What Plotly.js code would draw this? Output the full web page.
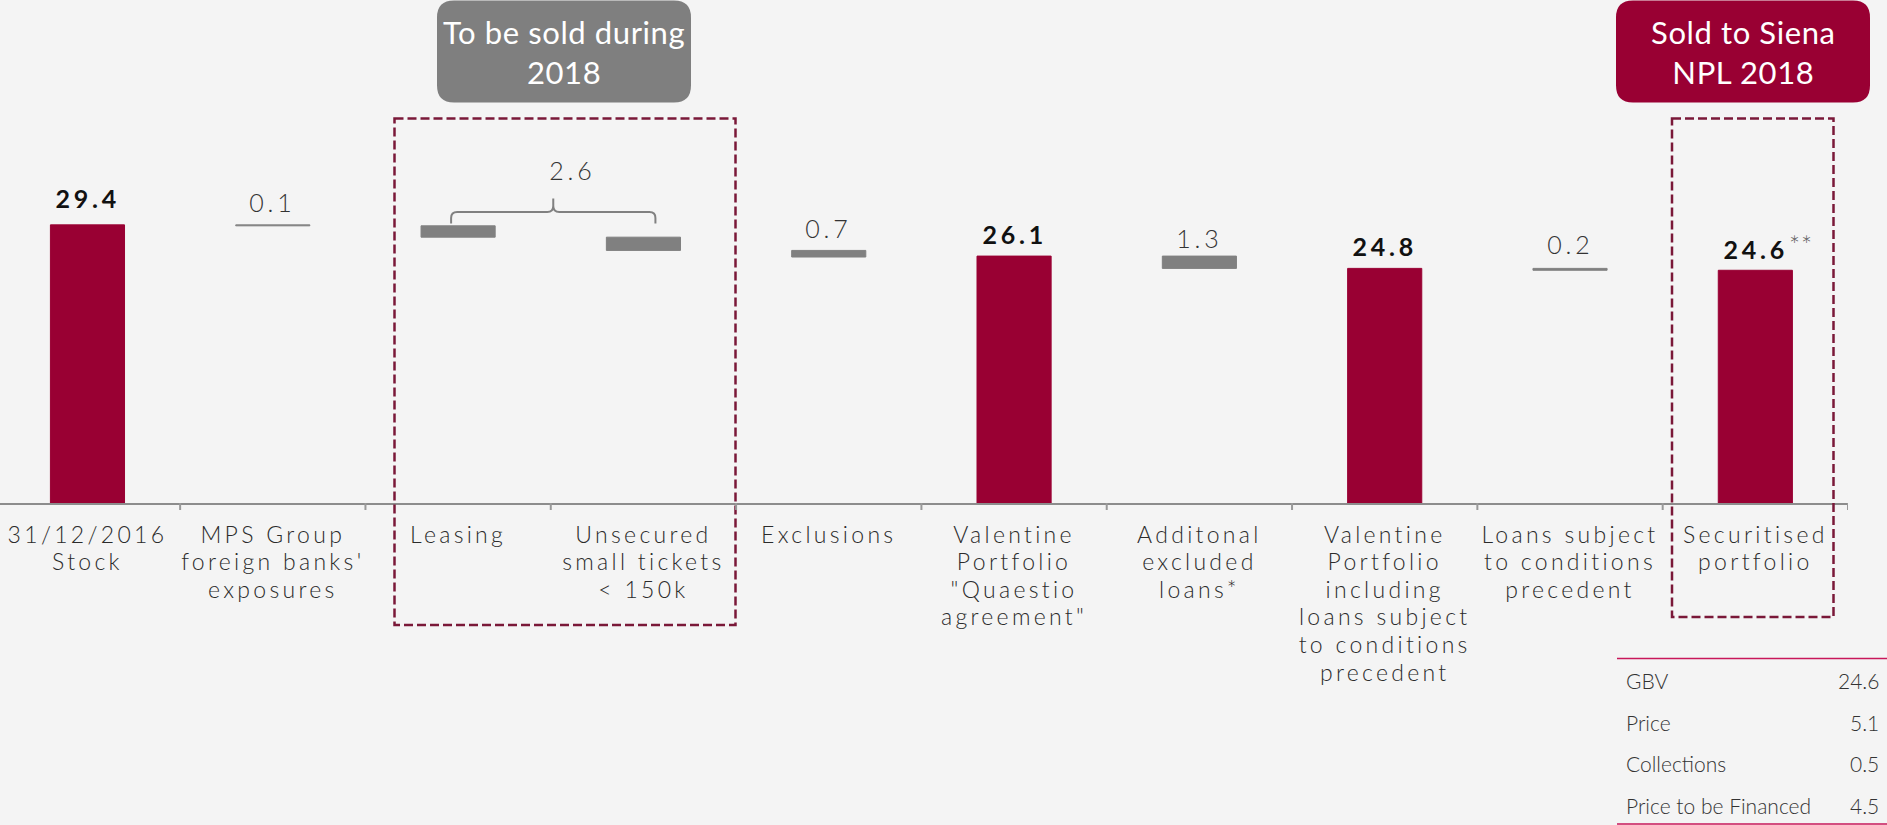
<!DOCTYPE html>
<html><head><meta charset="utf-8">
<script src="https://cdn.plot.ly/plotly-3.0.1.min.js"></script>
<style>
html,body{margin:0;padding:0;background:#f4f4f4;}
#chart{width:1887px;height:825px;}
.xtick text{letter-spacing:3.3px;}
</style>
</head><body><div id="chart"></div>
<script>
// ---------------- data ----------------
const categories = [
  '31/12/2016<br>Stock',
  "MPS Group<br>foreign banks'<br>exposures",
  'Leasing',
  'Unsecured<br>small tickets<br>&lt; 150k',
  'Exclusions',
  'Valentine<br>Portfolio<br>"Quaestio<br>agreement"',
  'Additonal<br>excluded<br>loans*',
  'Valentine<br>Portfolio<br>including<br>loans subject<br>to conditions<br>precedent',
  'Loans subject<br>to conditions<br>precedent',
  'Securitised<br>portfolio'
];
const measures = ['total','delta','delta','delta','delta','total','delta','total','delta','total'];
const values = [29.4, 0.1, 1.2, 1.4, 0.7, 26.1, 1.3, 24.8, 0.2, 24.6];
const valueLabels = ['29.4','0.1','','','0.7','26.1','1.3','24.8','0.2','24.6'];
const groupMembers = [2, 3];            // Leasing + Unsecured small tickets
const groupLabel = '2.6';
const boxLabels = ['To be sold during<br>2018', 'Sold to Siena<br>NPL 2018'];
const tableLabels = ['GBV', 'Price', 'Collections', 'Price to be Financed'];
const tableValues = ['24.6', '5.1', '0.5', '4.5'];

// ---------------- layout constants ----------------
const W = 1887, H = 825, ML = 0, MR = 39, MT = 0, MB = 322;
const plotW = W - ML - MR, plotH = H - MT - MB;
const xRange = [-0.472, 9.5];
const yRange = [0, 53.17];
const RED = '#990033', GREY = '#808080', FRAME = '#7a1838';
// pixel gap between bar top and label baseline (styling, per category)
const labelGap = [16.6, 12.2, 0, 0, 12.1, 11.1, 7.8, 11.7, 13.4, 11];
const LABEL_DESC = 6.3;   // descent + pad of 25px annotation text

const pxX = i => ML + (i - xRange[0]) / (xRange[1] - xRange[0]) * plotW;
const paperX = px => (px - ML) / plotW;
const paperY = py => (MT + plotH - py) / plotH;
const unitPx = plotH / (yRange[1] - yRange[0]);

// ---------------- bars ----------------
let level = 0;
const bases = [], heights = [], colors = [];
values.forEach((v, i) => {
  if (measures[i] === 'total') { bases.push(0); heights.push(v); level = v; colors.push(RED); }
  else { bases.push(level - v); heights.push(v); level = level - v; colors.push(GREY); }
});
const xIdx = categories.map((c, i) => i);

const trace = {
  type: 'bar', x: xIdx, y: heights, base: bases, width: 0.4,
  marker: { color: colors, line: { color: colors, width: 1 } },
  hoverinfo: 'skip', showlegend: false
};

// ---------------- annotations ----------------
const annotations = [];
const spacing = {};   // annotation index -> letter spacing (px)
valueLabels.forEach((lab, i) => {
  if (!lab) return;
  const tot = measures[i] === 'total';
  spacing[annotations.length] = 3.8;
  annotations.push({
    x: i, y: bases[i] + heights[i], xref: 'x', yref: 'y',
    text: lab, showarrow: false, yanchor: 'bottom', yshift: labelGap[i] - LABEL_DESC,
    font: { family: 'Lato', size: 25, weight: tot ? 700 : 300, color: tot ? '#111111' : '#333333' }
  });
});
// ** marker on last bar
const last = values.length - 1;
spacing[annotations.length] = 1;
annotations.push({
  x: last, y: bases[last] + heights[last], xref: 'x', yref: 'y',
  text: '**', showarrow: false, xanchor: 'left', yanchor: 'middle', xshift: 33, yshift: 25,
  font: { family: 'Lato', size: 26, weight: 300, color: '#5a5a5a' }
});

// bracket over grouped bars
const gTop = bases[groupMembers[0]] + heights[groupMembers[0]];
const yLeg = gTop + 0.25, yH = gTop + 1.45, yNub = gTop + 2.9;
const xl = paperX(pxX(groupMembers[0]) - 7), xr = paperX(pxX(groupMembers[1]) + 12);
const xc = (xl + xr) / 2;
const rx = 6 / plotW, ry = 6 / unitPx;
const bracketPath =
  `M${xl},${yLeg} L${xl},${yH - ry} Q${xl},${yH} ${xl + rx},${yH} L${xc - rx},${yH} Q${xc},${yH} ${xc},${yH + ry} L${xc},${yNub} ` +
  `M${xc},${yH + ry} Q${xc},${yH} ${xc + rx},${yH} L${xr - rx},${yH} Q${xr},${yH} ${xr},${yH - ry} L${xr},${yLeg}`;

spacing[annotations.length] = 3.8;
annotations.push({
  x: xc, y: yNub, xref: 'paper', yref: 'y', text: groupLabel, showarrow: false,
  yanchor: 'bottom', yshift: 11,
  font: { family: 'Lato', size: 25, weight: 300, color: '#333333' }
});

// header boxes
function roundRect(x0, y0, x1, y1, r) {
  const X = paperX, Y = paperY;
  return `M${X(x0 + r)},${Y(y0)} L${X(x1 - r)},${Y(y0)} Q${X(x1)},${Y(y0)} ${X(x1)},${Y(y0 + r)} ` +
         `L${X(x1)},${Y(y1 - r)} Q${X(x1)},${Y(y1)} ${X(x1 - r)},${Y(y1)} L${X(x0 + r)},${Y(y1)} ` +
         `Q${X(x0)},${Y(y1)} ${X(x0)},${Y(y1 - r)} L${X(x0)},${Y(y0 + r)} Q${X(x0)},${Y(y0)} ${X(x0 + r)},${Y(y0)} Z`;
}
const boxes = [
  { x0: 437, x1: 691, y0: 0.5, y1: 102.5, fill: '#7f7f7f' },
  { x0: 1616, x1: 1870, y0: 0.5, y1: 102.5, fill: RED }
];
const shapes = [];
boxes.forEach((b, k) => {
  shapes.push({ type: 'path', xref: 'paper', yref: 'paper', path: roundRect(b.x0, b.y0, b.x1, b.y1, 17),
                fillcolor: b.fill, line: { width: 0 }, layer: 'above' });
  spacing[annotations.length] = 0.6;
  annotations.push({
    x: paperX((b.x0 + b.x1) / 2), y: paperY((b.y0 + b.y1) / 2 + 1), xref: 'paper', yref: 'paper',
    text: boxLabels[k], showarrow: false, xanchor: 'center', yanchor: 'middle',
    font: { family: 'Lato', size: 31, color: '#ffffff' }
  });
});

// dashed frames
[[394.5, 118.5, 735.5, 625], [1672, 118.5, 1833.5, 617]].forEach(f => {
  shapes.push({ type: 'rect', xref: 'paper', yref: 'paper',
    x0: paperX(f[0]), x1: paperX(f[2]), y0: paperY(f[1]), y1: paperY(f[3]),
    line: { color: FRAME, width: 2.5, dash: '9px,4px' }, fillcolor: 'rgba(0,0,0,0)', layer: 'above' });
});

// bracket
shapes.push({ type: 'path', xref: 'paper', yref: 'y', path: bracketPath,
  line: { color: '#808080', width: 2 }, layer: 'above' });

// summary table
const tblTop = 658.5, rowH = 41.7, firstRow = 680.5;
shapes.push({ type: 'line', xref: 'paper', yref: 'paper', x0: paperX(1617), x1: paperX(1887),
  y0: paperY(tblTop), y1: paperY(tblTop), line: { color: '#c8175a', width: 1.5 } });
shapes.push({ type: 'line', xref: 'paper', yref: 'paper', x0: paperX(1617), x1: paperX(1887),
  y0: paperY(824), y1: paperY(824), line: { color: '#c8175a', width: 1.5 } });
tableLabels.forEach((lab, r) => {
  const py = firstRow + r * rowH;
  annotations.push({ x: paperX(1624), y: paperY(py), xref: 'paper', yref: 'paper', text: lab,
    showarrow: false, xanchor: 'left', yanchor: 'middle',
    font: { family: 'Lato', size: 21, weight: 300, color: '#333333' } });
  annotations.push({ x: paperX(1881), y: paperY(py), xref: 'paper', yref: 'paper', text: tableValues[r],
    showarrow: false, xanchor: 'right', yanchor: 'middle',
    font: { family: 'Lato', size: 21, weight: 300, color: '#333333' } });
});

// letter spacing for chart text labels
const st = document.createElement('style');
st.textContent = Object.keys(spacing).map(k => `.annotation[data-index="${k}"] text{letter-spacing:${spacing[k]}px;}`).join('\n');
document.head.appendChild(st);

// boundary tick marks
for (let i = 0; i < categories.length; i++) {
  const xb = i + 0.5;
  if (xb > xRange[1]) break;
  shapes.push({ type: 'line', xref: 'x', yref: 'paper', x0: xb, x1: xb, y0: 0, y1: -7 / plotH,
    line: { color: '#999999', width: 2 } });
}

const layout = {
  width: W, height: H,
  margin: { l: ML, r: MR, t: MT, b: MB },
  paper_bgcolor: '#f4f4f4', plot_bgcolor: '#f4f4f4',
  showlegend: false, bargap: 0,
  xaxis: {
    type: 'linear', range: xRange, tickmode: 'array', tickvals: xIdx, ticktext: categories,
    showline: true, linecolor: '#8c8c8c', linewidth: 2, showgrid: false, zeroline: false,
    ticks: '', tickangle: 0, fixedrange: true,
    tickfont: { family: 'Lato', size: 23, weight: 300, color: '#2b2b2b' },
    ticklabelstandoff: 10
  },
  yaxis: { range: yRange, visible: false, fixedrange: true },
  shapes: shapes,
  annotations: annotations
};

Plotly.newPlot('chart', [trace], layout, { displayModeBar: false, staticPlot: true }).then(() => {
  // tighten tick-label line spacing to match the original
  document.querySelectorAll('.xtick text').forEach(t => {
    t.querySelectorAll('tspan.line').forEach((s, i) => s.setAttribute('dy', (i * 1.2) + 'em'));
  });
});
</script>
</body></html>
